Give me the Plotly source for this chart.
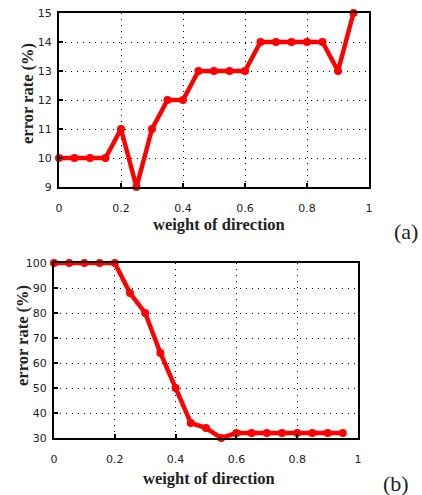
import plotly.graph_objects as go

weights = [0.0, 0.05, 0.1, 0.15, 0.2, 0.25, 0.3, 0.35, 0.4, 0.45,
           0.5, 0.55, 0.6, 0.65, 0.7, 0.75, 0.8, 0.85, 0.9, 0.95]
error_a = [10, 10, 10, 10, 11, 9, 11, 12, 12, 13, 13, 13, 13, 14, 14, 14, 14, 14, 13, 15]
error_b = [100, 100, 100, 100, 100, 88, 80, 64, 50, 36, 34, 30, 32, 32, 32, 32, 32, 32, 32, 32]

x_ticks = [0, 0.2, 0.4, 0.6, 0.8, 1]
x_ticklabels = ["0", "0.2", "0.4", "0.6", "0.8", "1"]
y_ticks_a = [9, 10, 11, 12, 13, 14, 15]
y_ticks_b = [30, 40, 50, 60, 70, 80, 90, 100]

W, H = 422, 495
RED = "#ff0000"

fig = go.Figure()
fig.add_trace(go.Scatter(x=weights, y=error_a, mode="lines+markers",
                         line=dict(color=RED, width=4.5),
                         marker=dict(color=RED, size=8, symbol="circle"),
                         xaxis="x", yaxis="y", cliponaxis=False, showlegend=False))
fig.add_trace(go.Scatter(x=weights, y=error_b, mode="lines+markers",
                         line=dict(color=RED, width=4.5),
                         marker=dict(color=RED, size=8, symbol="circle"),
                         xaxis="x2", yaxis="y2", cliponaxis=False, showlegend=False))

tickfont = dict(family="DejaVu Sans", size=11, color="#222")
common_x = dict(range=[0, 1], tickvals=x_ticks, ticktext=x_ticklabels, automargin=False,
                showgrid=True, gridcolor="black", griddash="1px,5px", gridwidth=1,
                zeroline=False, showline=True, linecolor="black", linewidth=2, mirror=True,
                ticks="inside", ticklen=4, tickcolor="black", tickwidth=2,
                tickfont=tickfont, ticklabelstandoff=10)
common_y = dict(automargin=False,
                showgrid=True, gridcolor="black", griddash="1px,5px", gridwidth=1,
                zeroline=False, showline=True, linecolor="black", linewidth=2, mirror=True,
                ticks="inside", ticklen=4, tickcolor="black", tickwidth=2,
                tickfont=tickfont, ticklabelstandoff=3)

def px_x(p):
    return p / W

def px_y(p):
    return 1 - p / H

fig.update_layout(
    width=W, height=H,
    margin=dict(l=0, r=0, t=0, b=0, autoexpand=False),
    paper_bgcolor="white", plot_bgcolor="white",
    xaxis=dict(domain=[px_x(59), px_x(369)], anchor="y", **common_x),
    yaxis=dict(domain=[px_y(187), px_y(13)], anchor="x", range=[9, 15], tickvals=y_ticks_a, **common_y),
    xaxis2=dict(domain=[px_x(54), px_x(358)], anchor="y2", **common_x),
    yaxis2=dict(domain=[px_y(438), px_y(263)], anchor="x2", range=[30, 100], tickvals=y_ticks_b, **common_y),
)

title_font = dict(family="Liberation Serif", size=16.5, color="#222")
label_font = dict(family="Liberation Serif", size=22, color="#222")
ann = [
    dict(text="<b>weight of direction</b>", x=px_x(219), y=px_y(224), font=title_font, xanchor="center"),
    dict(text="<b>error rate (%)</b>", x=px_x(27), y=px_y(93), font=title_font, textangle=-90, xanchor="center"),
    dict(text="(a)", x=px_x(420), y=px_y(231), font=label_font, xanchor="right"),
    dict(text="<b>weight of direction</b>", x=px_x(209), y=px_y(478), font=title_font, xanchor="center"),
    dict(text="<b>error rate (%)</b>", x=px_x(22), y=px_y(336), font=title_font, textangle=-90, xanchor="center"),
    dict(text="(b)", x=px_x(411), y=px_y(483), font=label_font, xanchor="right"),
]
for a in ann:
    fig.add_annotation(xref="paper", yref="paper", showarrow=False,
                       yanchor="middle", **a)

fig.write_html("out.html", config={"displayModeBar": False},
               post_script="document.body.style.margin='0';")
